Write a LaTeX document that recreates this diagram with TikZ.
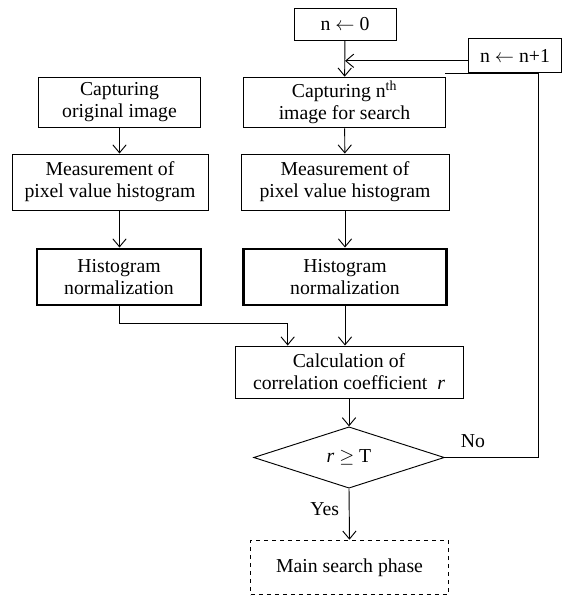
\documentclass[tikz,border=0pt]{standalone}
\usepackage{fontspec}
\setmainfont{Liberation Serif}
\usetikzlibrary{positioning, arrows.meta, shapes.geometric}

\begin{document}
\begin{tikzpicture}[
  % one unit = one pixel of the layout, y grows downwards
  x=0.75pt, y=-0.75pt,
  >={Straight Barb[length=6pt,width=10pt]},
  % process box style
  procbox/.style={
    draw, line width=0.7pt, inner sep=0pt, align=center,
    font=\fontsize{14.8}{16.5}\selectfont
  },
  % thick normalization box
  normbox/.style={procbox, line width=2.2pt},
  % decision diamond
  decision/.style={
    draw, diamond, line width=0.7pt, inner sep=0pt,
    minimum width=143pt, minimum height=46pt,
    font=\fontsize{14.8}{16.5}\selectfont
  },
  % connectors
  flow/.style={->, line width=0.7pt},
  link/.style={line width=0.7pt},
  tag/.style={font=\fontsize{14.8}{16.5}\selectfont}
]
\useasboundingbox (0,0) rectangle (562,599);

% --- counter boxes ---
\node[procbox, minimum width=76.5pt, minimum height=24pt] (init)
  at (345,24) {n $\leftarrow$ 0};
\node[procbox, minimum width=70pt, minimum height=26pt] (incr)
  at (515,55.5) {n $\leftarrow$ n+1};

% --- left column: original image ---
\node[procbox, minimum width=122pt, minimum height=38pt] (captorig)
  at (119.5,102.5) {Capturing\\original image};
\node[procbox, minimum width=147pt, minimum height=42pt] (measorig)
  at (110,182) {Measurement of\\pixel value histogram};
\node[normbox, minimum width=123pt, minimum height=42pt] (normorig)
  at (119,277) {Histogram\\normalization};

% --- right column: n-th search image ---
\node[procbox, minimum width=152pt, minimum height=38pt] (captnth)
  at (344.5,102.5) {Capturing n\textsuperscript{th}\\image for search};
\node[procbox, minimum width=156pt, minimum height=42pt] (measnth)
  at (345,182) {Measurement of\\pixel value histogram};
\node[normbox, minimum width=152pt, minimum height=42pt] (normnth)
  at (345,277) {Histogram\\normalization};

% --- comparison ---
\node[procbox, minimum width=171pt, minimum height=39pt] (calc)
  at (349,372) {Calculation of\\correlation coefficient \ \textit{r}};
\node[decision] (check) at (349,457.5) {\textit{r} $\geq$ T};
\node[procbox, dashed, minimum width=148pt, minimum height=41pt] (mainsearch)
  at (349.5,567.5) {Main search phase};

% --- connectors ---
\draw[flow] (init) -- (captnth);
\draw[flow] ([yshift=-4pt]incr.west) -- ([yshift=-4pt]incr.west -| init.south);
\draw[flow] (captorig.south) -- (captorig.south |- measorig.north);
\draw[flow] (captorig.south |- measorig.south) -- (captorig.south |- normorig.north);
\draw[flow] (normorig.south) -- ++(0,17) -| ([xshift=-46pt]calc.north);
\draw[flow] (captnth) -- (measnth);
\draw[flow] (measnth) -- (normnth);
\draw[flow] (normnth.south) -- (normnth.south |- calc.north);
\draw[flow] (calc) -- (check);
\draw[flow] (check.south) -- node[tag, left, xshift=-4pt, yshift=4pt] {Yes}
  (mainsearch.north);
\draw[link] (check.east) -- node[tag, above, pos=0.3, yshift=4pt] {No} ++(94,0)
  |- ([xshift=17pt]incr.south) -- (incr.south -| check.east);
\end{tikzpicture}
\end{document}
